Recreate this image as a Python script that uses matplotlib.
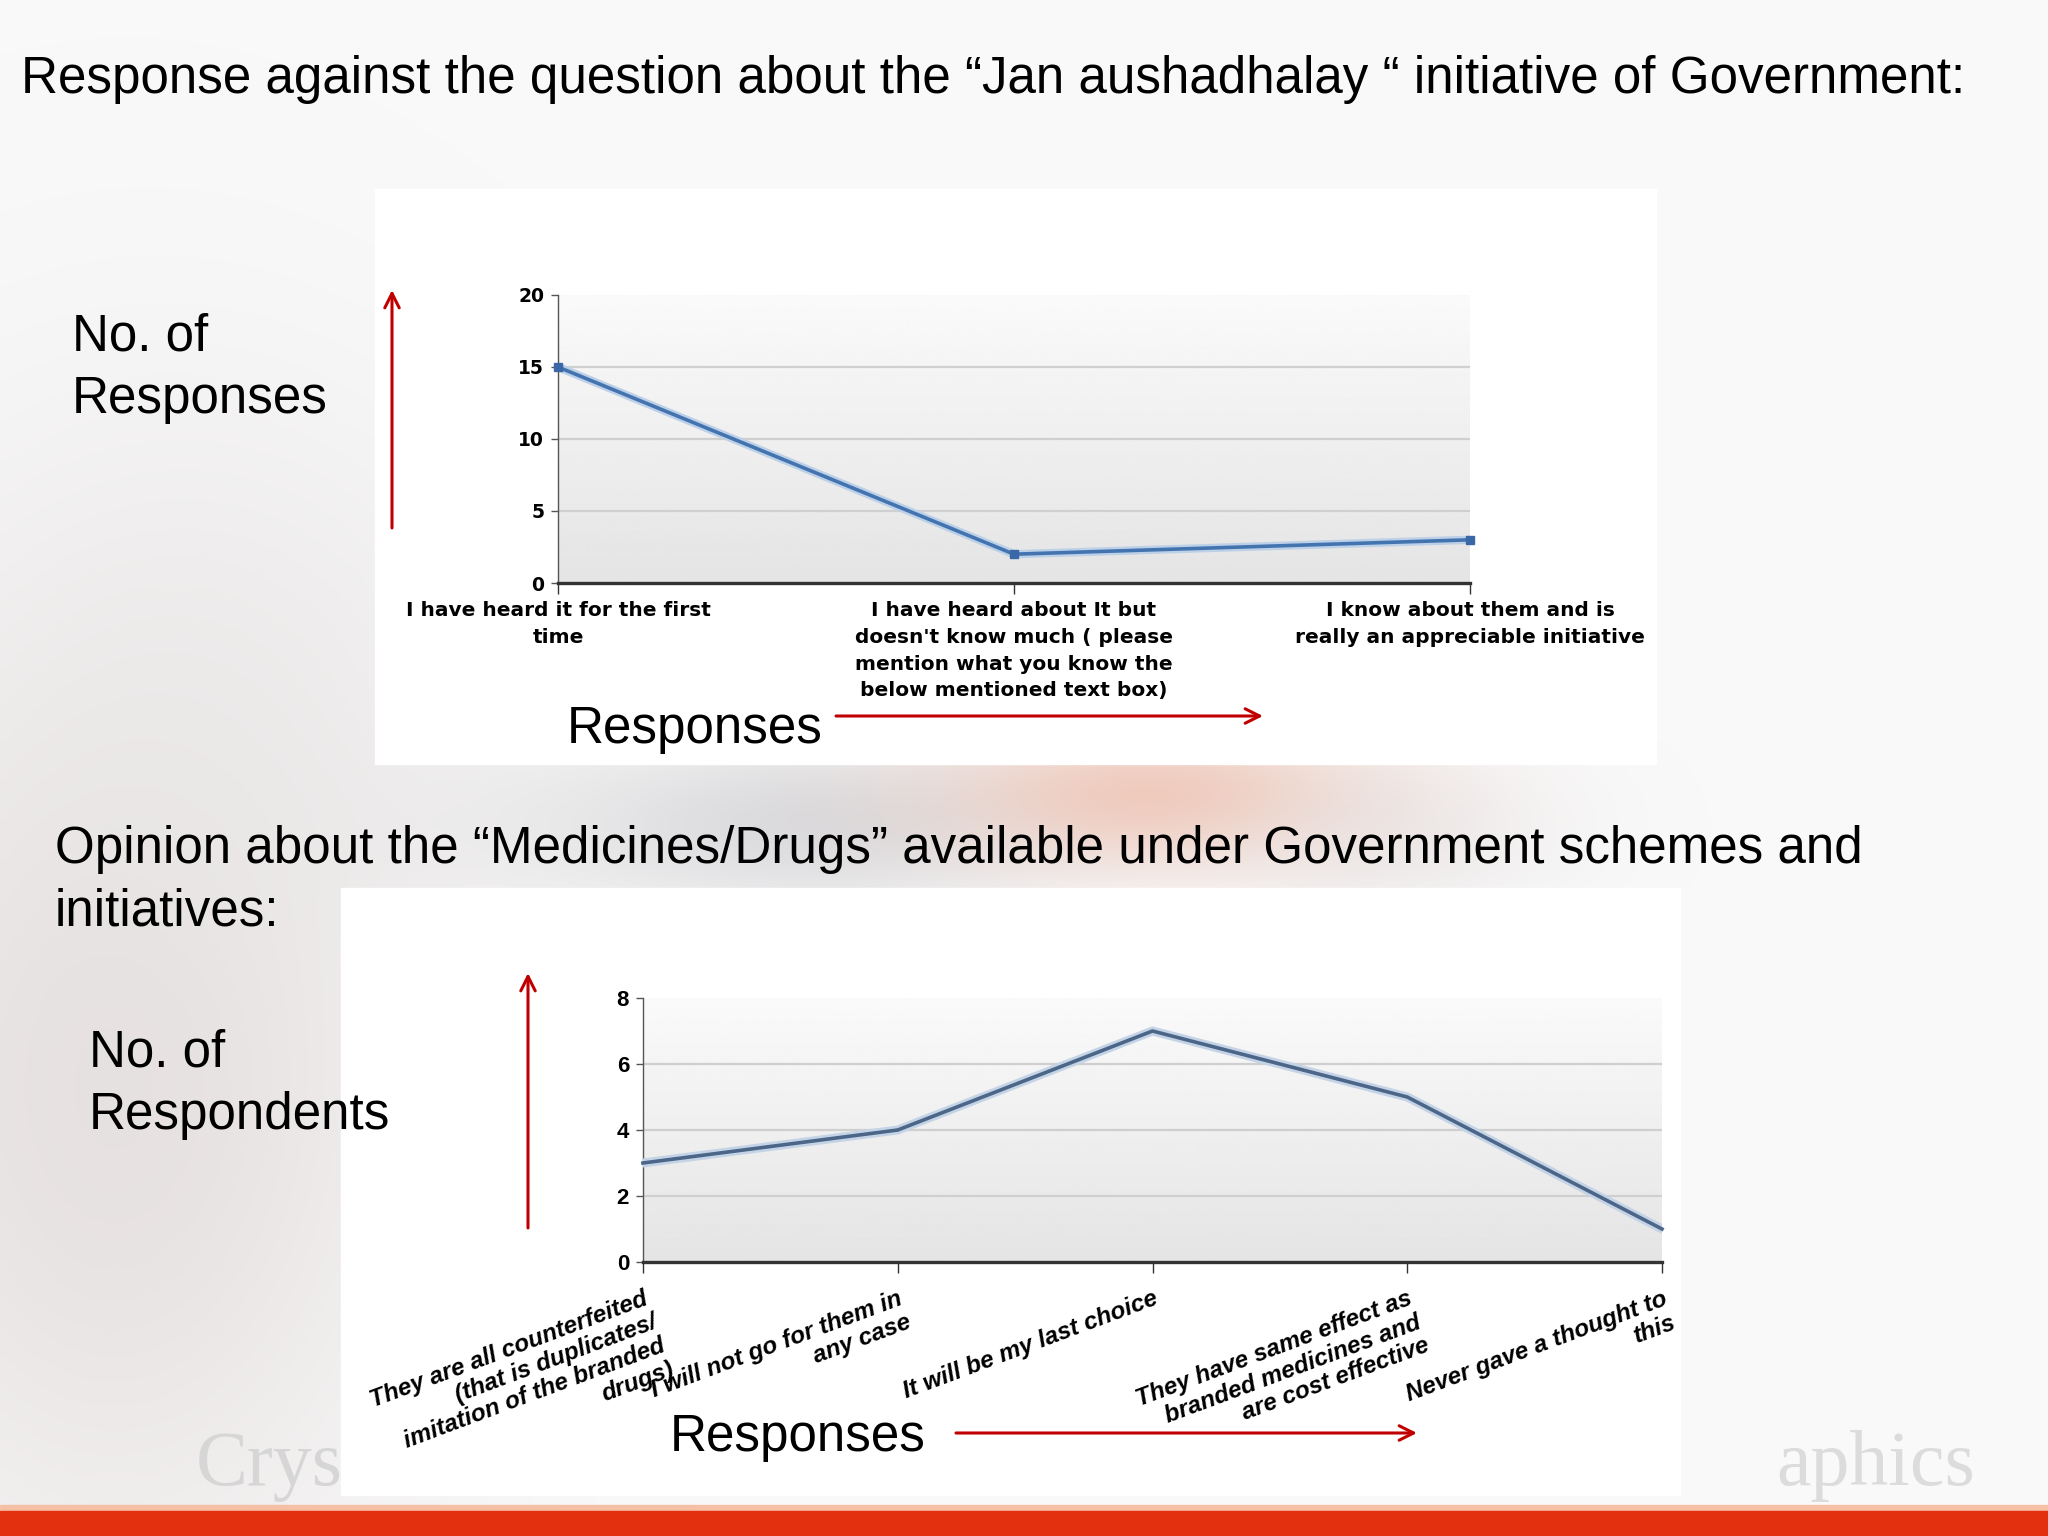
import matplotlib

matplotlib.use('Agg')

import matplotlib.pyplot as plt
import numpy as np
from matplotlib.patches import Rectangle

# data
awareness_labels = [
    "I have heard it for the first\ntime",
    "I have heard about It but\ndoesn't know much ( please\nmention what you know the\nbelow mentioned text box)",
    "I know about them and is\nreally an appreciable initiative",
]
awareness_counts = [15, 2, 3]
awareness_yticks = [0, 5, 10, 15, 20]

opinion_labels = [
    "They are all counterfeited\n(that is duplicates/\nimitation of the branded\ndrugs)",
    "I will not go for them in\nany case",
    "It will be my last choice",
    "They have same effect as\nbranded medicines and\nare cost effective",
    "Never gave a thought to\nthis",
]
opinion_counts = [3, 4, 7, 5, 1]
opinion_yticks = [0, 2, 4, 6, 8]

title_1 = "Response against the question about the \u201cJan aushadhalay \u201c initiative of Government:"
title_2 = "Opinion about the \u201cMedicines/Drugs\u201d available under Government schemes and\ninitiatives:"

W, H = 2048, 1536
RED = '#c00000'
SANS = 'Liberation Sans'
BIG = 36.8


def fig_box(x0, y0, x1, y1):
    return [x0 / W, 1 - y1 / H, (x1 - x0) / W, (y1 - y0) / H]


# soft blurred slide background
h, w = 192, 256
yy, xx = np.mgrid[0:h, 0:w] * 8.0
bg = np.ones((h, w, 3)) * 0.978


def blob(cx, cy, sx, sy, color, strength):
    global bg
    g = strength * np.exp(-(((xx - cx) / sx) ** 2 + ((yy - cy) / sy) ** 2) / 2)
    bg = bg * (1 - g[..., None]) + np.array(color) * g[..., None]


blob(110, 1080, 230, 360, (0.88, 0.85, 0.85), 0.75)
blob(230, 700, 200, 200, (0.91, 0.90, 0.90), 0.5)
blob(800, 820, 190, 60, (0.74, 0.74, 0.76), 0.5)
blob(1160, 790, 150, 50, (0.93, 0.66, 0.56), 0.55)
blob(1380, 830, 120, 60, (0.86, 0.84, 0.84), 0.4)

fig = plt.figure(figsize=(20.48, 15.36), dpi=100)
bg_ax = fig.add_axes([0, 0, 1, 1])
bg_ax.imshow(bg, extent=[0, W, H, 0], aspect='auto', interpolation='bilinear')
bg_ax.set_xlim(0, W)
bg_ax.set_ylim(H, 0)
bg_ax.axis('off')

# faint watermark
bg_ax.text(196, 1466, 'Crystal', fontsize=56, family='Liberation Serif', color='#d6d6d6',
           va='center', zorder=1)
bg_ax.text(1975, 1466, 'aphics', fontsize=56, family='Liberation Serif', color='#dcdcdc',
           va='center', ha='right', zorder=1)

# white panels behind the charts
panel_1 = Rectangle((375, 189), 1281, 575, color='white', zorder=2)
panel_2 = Rectangle((341, 888), 1339, 607, color='white', zorder=2)
bg_ax.add_patch(panel_1)
bg_ax.add_patch(panel_2)

# bottom band
bg_ax.add_patch(Rectangle((0, 1505), W, 8, color='#f5c0a5', zorder=3))
bg_ax.add_patch(Rectangle((0, 1511), W, 25, color='#e3300e', zorder=3))

# slide texts
txt = dict(family=SANS, color='black', zorder=5)
bg_ax.text(21, 80, title_1, fontsize=BIG, va='center', **txt)
bg_ax.text(55, 881, title_2, fontsize=BIG, va='center', linespacing=1.35, **txt)
bg_ax.text(72, 368, "No. of\nResponses", fontsize=BIG, va='center', linespacing=1.35, **txt)
bg_ax.text(89, 1084, "No. of\nRespondents", fontsize=BIG, va='center', linespacing=1.35, **txt)
bg_ax.text(567, 730, "Responses", fontsize=BIG, va='center', **txt)
bg_ax.text(670, 1438, "Responses", fontsize=BIG, va='center', **txt)

arrow = dict(arrowstyle='->', color=RED, lw=2.2, mutation_scale=26, shrinkA=0, shrinkB=0)
bg_ax.annotate('', xy=(392, 290), xytext=(392, 528), arrowprops=arrow, zorder=5)
bg_ax.annotate('', xy=(1263, 716), xytext=(836, 716), arrowprops=arrow, zorder=5)
bg_ax.annotate('', xy=(528, 973), xytext=(528, 1228), arrowprops=arrow, zorder=5)
bg_ax.annotate('', xy=(1417, 1433), xytext=(956, 1433), arrowprops=arrow, zorder=5)

grad = np.linspace(0.98, 0.895, 100)[:, None]


def style_axes(ax, n, ymax, yticks, tick_font):
    ax.set_facecolor('none')
    ax.imshow(grad, cmap='gray', vmin=0, vmax=1, extent=[0, n - 1, 0, ymax],
              aspect='auto', zorder=0)
    ax.set_xlim(0, n - 1)
    ax.set_ylim(0, ymax)
    ax.set_yticks(yticks)
    ax.set_yticklabels([str(t) for t in yticks], **tick_font)
    ax.yaxis.grid(True, color='#cfcfcf', lw=1.6)
    ax.yaxis.get_gridlines()[-1].set_visible(False)
    ax.set_axisbelow(True)
    for s in ['top', 'right']:
        ax.spines[s].set_visible(False)
    ax.spines['left'].set_color('#555555')
    ax.spines['left'].set_linewidth(1.0)
    ax.spines['bottom'].set_color('#333333')
    ax.spines['bottom'].set_linewidth(2.4)
    ax.tick_params(axis='y', length=5, width=1, color='#555555', pad=5)
    ax.tick_params(axis='x', length=8, width=1, color='#333333')


# chart 1
ax1 = fig.add_axes(fig_box(558, 295, 1470, 583))
x1 = np.arange(len(awareness_counts))
style_axes(ax1, len(awareness_counts), 20, awareness_yticks,
           dict(family='DejaVu Sans', fontweight='bold', fontsize=13.5))
ax1.plot(x1, awareness_counts, color='#bcd0e8', lw=6, zorder=3, solid_capstyle='round')
ax1.plot(x1, awareness_counts, color='#4374b0', lw=2.6, marker='s', markersize=5.5,
         markerfacecolor='#3a68a6', markeredgecolor='#3a68a6', clip_on=False, zorder=4)
ax1.set_xticks(x1)
ax1.set_xticklabels(awareness_labels, family='DejaVu Sans', fontweight='bold',
                    fontsize=14.5, linespacing=1.52, ha='center', va='top')
ax1.tick_params(axis='x', pad=5)

# chart 2
ax2 = fig.add_axes(fig_box(643, 998, 1662, 1262))
x2 = np.arange(len(opinion_counts))
style_axes(ax2, len(opinion_counts), 8, opinion_yticks,
           dict(family=SANS, fontweight='bold', fontsize=16))
ax2.plot(x2, opinion_counts, color='#c4d4e6', lw=6.5, zorder=3, solid_capstyle='round')
ax2.plot(x2, opinion_counts, color='#4b6688', lw=2.6, clip_on=False, zorder=4)
ax2.set_xticks(x2)
ax2.set_xticklabels(opinion_labels, family=SANS, fontweight='bold', style='italic',
                    fontsize=17.5, linespacing=1.12, rotation=20.5, rotation_mode='anchor',
                    ha='right', va='top', multialignment='right')
ax2.tick_params(axis='x', pad=10)
for lab in ax2.get_xticklabels():
    lab.set_clip_path(panel_2)
    lab.set_clip_on(True)

fig.savefig('out.png', dpi=100)
